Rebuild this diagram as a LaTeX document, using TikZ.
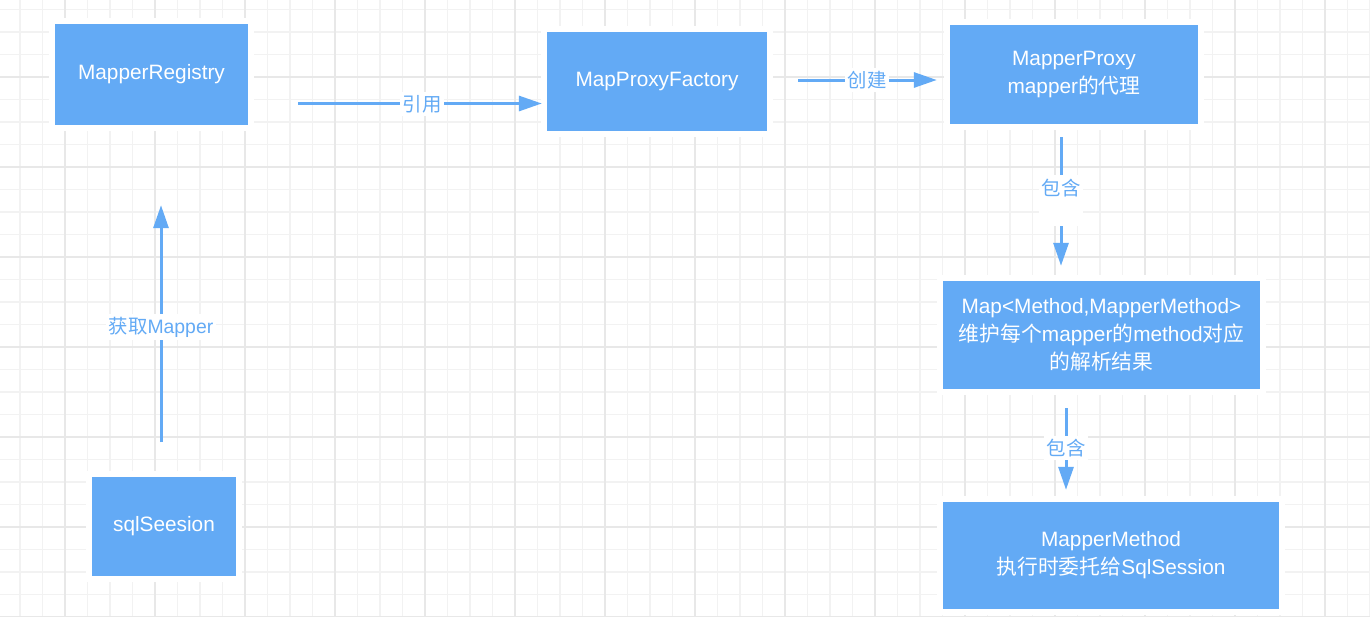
\documentclass[tikz,border=0pt]{standalone}
\usepackage{fontspec}
\setmainfont{Liberation Sans}
\newfontfamily\cjk{Noto Sans CJK SC}
\usetikzlibrary{arrows.meta}
\definecolor{boxblue}{HTML}{63AAF5}
\definecolor{gridminor}{HTML}{F2F2F2}
\definecolor{gridmajor}{HTML}{E8E8E8}
\begin{document}
\begin{tikzpicture}[x=1pt, y=-1pt]
\tikzstyle{block} = [fill=boxblue, text=white, align=center, inner sep=0pt,
  font=\fontsize{20.8}{28}\selectfont, preaction={draw=white, line width=12pt}]
\tikzstyle{connector} = [-{Triangle[length=23pt,width=15pt]}, draw=boxblue, line width=3pt]
\tikzstyle{note} = [fill=white, text=boxblue, inner sep=3pt, font=\fontsize{19.4}{22}\selectfont]
\tikzstyle{minor} = [draw=gridminor, line width=1.2pt]
\tikzstyle{major} = [draw=gridmajor, line width=1.6pt]
\useasboundingbox (0,0) rectangle (1370,616);
\fill[white] (0,0) rectangle (1370,616);
% grid
\foreach \i in {0,...,61} {\draw[minor] (-2.5+22.5*\i,0) -- (-2.5+22.5*\i,616);}
\foreach \i in {0,...,27} {\draw[minor] (0,9.5+22.5*\i) -- (1370,9.5+22.5*\i);}
\foreach \i in {0,...,15} {\draw[major] (-25+90*\i,0) -- (-25+90*\i,616);}
\foreach \i in {0,...,7} {\draw[major] (0,-13+90*\i) -- (1370,-13+90*\i);}

% boxes
\node[block, minimum width=193pt, minimum height=101pt] (reg) at (151.5,74.5) {MapperRegistry};
\node[block, minimum width=220pt, minimum height=99pt] (fac) at (657,81.5) {MapProxyFactory};
\node[block, minimum width=248pt, minimum height=99pt] (proxy) at (1074,74.5) {MapperProxy\\mapper{\cjk 的代理}};
\node[block, minimum width=317pt, minimum height=108pt] (map) at (1101.5,335) {Map<Method,MapperMethod>\\{\cjk 维护每个}mapper{\cjk 的}method{\cjk 对应}\\{\cjk 的解析结果}};
\node[block, minimum width=336pt, minimum height=107pt] (meth) at (1111,555.5) {MapperMethod\\{\cjk 执行时委托给}SqlSession};
\node[block, minimum width=144pt, minimum height=99pt] (sess) at (164,526.5) {sqlSeesion};

% connector ends
\coordinate (c1) at (298,103.5);
\coordinate (c2) at (798,80);
\coordinate (c3) at (1061,137);
\coordinate (c4) at (1066,408);
\coordinate (c5) at (161,442);

\draw[connector] (c1) -- ([xshift=-5pt]fac.west |- c1);
\draw[connector] (c2) -- ([xshift=-13pt]proxy.west |- c2);
\draw[connector] (c3) -- ([yshift=15pt]map.north -| c3);
\draw[connector] (c4) -- ([yshift=12pt]meth.north -| c4);
\draw[connector] (c5) -- ([yshift=-80pt]reg.south -| c5);

% labels
\node[note] (l1) at (422,104) {\cjk 引用};
\node[note] (l2) at (867,80) {\cjk 创建};
\node[note, anchor=north, text height=17pt, text depth=28pt] (l3) at (1061,175) {\cjk 包含};
\node[note] (l4) at (1066,448) {\cjk 包含};
\node[note] (l5) at (161,327) {{\cjk 获取}Mapper};
\end{tikzpicture}
\end{document}
